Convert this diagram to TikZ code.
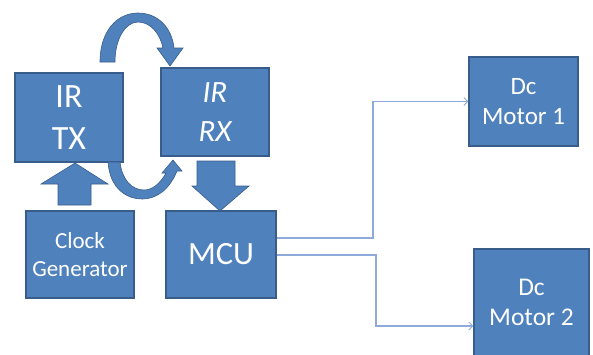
\documentclass[tikz,border=0pt]{standalone}
\usepackage{fontspec}
\setmainfont{Carlito}
\usetikzlibrary{arrows.meta,calc}
\definecolor{boxfill}{HTML}{4F81BD}
\definecolor{boxedge}{HTML}{385D8A}
\definecolor{linec}{HTML}{8EAADB}
\begin{document}
\begin{tikzpicture}[x=1pt,y=-1pt,
  blk/.style={draw=boxedge,line width=1.3pt,fill=boxfill,text=white,align=center,inner sep=0pt},
  conn/.style={draw=linec,line width=1.2pt,-{Straight Barb[length=4pt,width=8pt,line width=0.8pt]}},
  shapearrow/.style={fill=boxfill,draw=boxedge,line width=0.6pt}]
\useasboundingbox (0,0) rectangle (593,354);
\node[blk,minimum width=108pt,minimum height=89pt,font=\fontsize{34}{42}\selectfont] (tx) at (69,117.5) {IR\\TX};
\node[blk,minimum width=108pt,minimum height=88pt,font=\fontsize{31}{39}\selectfont\itshape] (rx) at (215,112) {IR\\RX};
\node[blk,minimum width=108pt,minimum height=87pt,font=\fontsize{23}{28}\selectfont] (clk) at (80,254.5) {Clock\\Generator};
\node[blk,minimum width=110pt,minimum height=87pt,font=\fontsize{32.5}{36}\selectfont] (mcu) at (221,254.5) {MCU};
\node[blk,minimum width=109pt,minimum height=89pt,font=\fontsize{25}{30}\selectfont] (m1) at (523.5,101.5) {Dc\\Motor 1};
\node[blk,minimum width=115pt,minimum height=107pt,font=\fontsize{25.5}{30}\selectfont] (m2) at (531.5,302.5) {Dc\\Motor 2};
% block arrows
\path[shapearrow] (58,205) -- (58,184) -- (41,184) -- (75,163) -- (108,184) -- (91,184) -- (91,205) -- cycle;
\path[shapearrow] (197,161) -- (197,186) -- (192,186) -- (220,211) -- (249,186) -- (235,186) -- (235,161) -- cycle;
% curved arrows
\path[shapearrow] (100,62) .. controls (100,30) and (118,13) .. (138,13)
  .. controls (158,13) and (172,28) .. (174,48) -- (183,48) -- (170,66) -- (157,48) -- (163,48)
  .. controls (160,33) and (150,22) .. (138,22) .. controls (126,22) and (115,38) .. (115,62) -- cycle;
\path[shapearrow] (108,162) .. controls (110,190) and (128,199) .. (142,199)
  .. controls (158,199) and (170,188) .. (177,171) -- (182,171) -- (173,160) -- (162,173) -- (166,173)
  .. controls (160,184) and (152,190) .. (144,190) .. controls (132,190) and (122,180) .. (120,162) -- cycle;
% connectors
\coordinate (j1) at (373,238);
\coordinate (j2) at (376,255);
\draw[conn] ([yshift=16.5pt]mcu.east) -- (j1) |- (m1.west);
\draw[conn] ([yshift=-0.5pt]mcu.east) -- (j2) |- ([yshift=-23.5pt]m2.west);
\end{tikzpicture}
\end{document}
